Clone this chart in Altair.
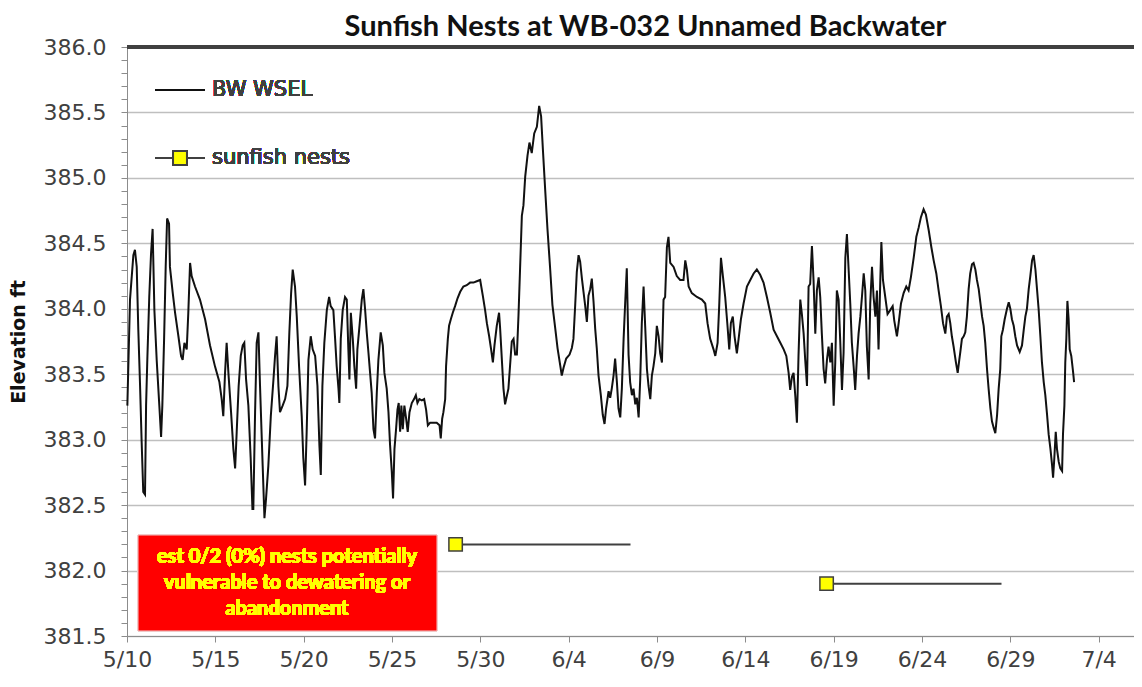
import altair as alt
import pandas as pd

# ---- water surface elevation (days after 5/10, elevation ft) ----
wsel_day = [
    0.02, 0.17, 0.36, 0.45, 0.55, 0.64, 0.74, 0.83, 0.92, 1.02, 1.08, 1.15, 1.26, 1.36, 1.45, 1.55,
    1.68, 1.83, 1.93, 2.00, 2.10, 2.19, 2.27, 2.38, 2.43, 2.59, 2.72, 2.91, 3.06, 3.15, 3.25, 3.38,
    3.47, 3.57, 3.66, 3.85, 4.13, 4.42, 4.70, 4.98, 5.23, 5.36, 5.45, 5.55, 5.64, 5.74, 5.89, 6.02,
    6.12, 6.21, 6.32, 6.44, 6.55, 6.64, 6.74, 6.87, 7.00, 7.10, 7.15, 7.25, 7.34, 7.44, 7.53, 7.68,
    7.78, 7.87, 8.00, 8.14, 8.29, 8.38, 8.47, 8.57, 8.66, 8.81, 8.95, 9.08, 9.19, 9.29, 9.38, 9.51,
    9.61, 9.74, 9.89, 9.98, 10.08, 10.17, 10.27, 10.40, 10.51, 10.65, 10.78, 10.89,
    10.97, 11.06, 11.17, 11.31, 11.44, 11.53, 11.68, 11.78, 11.87, 11.97, 12.02, 12.10, 12.21, 12.34,
    12.44, 12.53, 12.59, 12.67, 12.78, 12.87, 12.97, 13.04, 13.16, 13.29, 13.38, 13.48, 13.57, 13.67,
    13.76, 13.85, 13.95, 14.04, 14.14, 14.23, 14.36, 14.48, 14.57, 14.70, 14.80, 14.89, 14.99, 15.06,
    15.14, 15.23, 15.31, 15.38, 15.46, 15.53, 15.61, 15.70, 15.80, 15.89, 15.99, 16.12, 16.25, 16.35,
    16.44, 16.55, 16.69, 16.82, 16.93, 17.03, 17.16, 17.35, 17.53, 17.69, 17.76, 17.84, 17.91, 18.01,
    18.06, 18.16, 18.23, 18.33, 18.44, 18.57, 18.71, 18.86, 19.04, 19.23, 19.42, 19.61, 19.80, 19.99,
    20.14, 20.27, 20.37, 20.50, 20.61, 20.71, 20.80, 20.93, 21.06,
    21.12, 21.31, 21.40, 21.59, 21.78, 21.88, 21.97, 22.07, 22.16, 22.25, 22.35, 22.44, 22.54, 22.67,
    22.78, 22.91, 23.05, 23.20, 23.33, 23.44, 23.54, 23.67, 23.80, 23.95, 24.08, 24.24, 24.37, 24.52,
    24.61, 24.71, 24.86, 25.05, 25.18, 25.27, 25.37, 25.46, 25.56, 25.65, 25.75, 25.84, 25.93, 26.03,
    26.12, 26.22, 26.31, 26.41, 26.50, 26.59, 26.69, 26.82, 26.93, 27.03, 27.12, 27.26, 27.35, 27.44,
    27.54, 27.63, 27.73, 27.82, 27.92, 28.01, 28.11, 28.20, 28.29, 28.39, 28.48, 28.58, 28.67, 28.77,
    28.86, 28.96,
    29.05, 29.14, 29.24, 29.33, 29.43, 29.52, 29.62, 29.71, 29.80, 29.90, 29.99, 30.09, 30.18, 30.28,
    30.37, 30.46, 30.56, 30.65, 30.75, 30.94, 31.12, 31.31, 31.50, 31.60, 31.69, 31.79, 31.97, 32.26,
    32.54, 32.73, 32.86, 33.01, 33.20, 33.30, 33.43, 33.52, 33.62, 33.73, 33.86, 33.99, 34.09, 34.18,
    34.29, 34.39, 34.52, 34.62, 34.75, 34.90, 35.09, 35.28, 35.47, 35.65, 35.84, 36.03, 36.22, 36.41,
    36.60, 36.79, 36.98, 37.17, 37.32, 37.45,
    37.54, 37.64, 37.73, 37.83, 37.92, 38.01, 38.11, 38.20, 38.30, 38.39, 38.49, 38.58, 38.67, 38.77,
    38.86, 38.96, 39.05, 39.15, 39.24, 39.33, 39.43, 39.52, 39.62, 39.71, 39.81, 39.90, 40.00, 40.09,
    40.18, 40.28, 40.37, 40.47, 40.56, 40.66, 40.75, 40.85, 40.94, 41.03, 41.13, 41.22, 41.32, 41.41,
    41.51, 41.60, 41.70, 41.79, 41.88, 41.98, 42.07, 42.17, 42.26, 42.36, 42.45, 42.54, 42.64, 42.70,
    42.79, 42.92, 43.05, 43.20, 43.34, 43.43, 43.58, 43.68, 43.81, 43.96, 44.11, 44.24, 44.37, 44.53,
    44.68, 44.81, 44.94, 45.09, 45.22, 45.38, 45.53, 45.66, 45.81, 45.94, 46.07, 46.19, 46.32, 46.41,
    46.51, 46.60, 46.69, 46.79, 46.92, 47.02, 47.11,
    47.17, 47.26, 47.36, 47.45, 47.54, 47.64, 47.73, 47.83, 47.92, 48.02, 48.11, 48.21, 48.30, 48.40,
    48.49, 48.58, 48.68, 48.77, 48.87, 48.96, 49.06, 49.15, 49.25, 49.34, 49.43, 49.49, 49.58, 49.68,
    49.81, 49.91, 50.00, 50.09, 50.19, 50.28, 50.38, 50.53, 50.66, 50.76, 50.85, 50.94, 51.04, 51.13,
    51.23, 51.32, 51.42, 51.51, 51.60, 51.70, 51.79, 51.89, 51.98, 52.08, 52.17, 52.27, 52.36, 52.42,
    52.49, 52.57, 52.64, 52.74, 52.83, 52.93, 52.98, 53.06, 53.11, 53.17, 53.23, 53.30, 53.36, 53.45,
    53.55, 53.61,
]
wsel_ft = [
    383.26, 384.07, 384.41, 384.45, 384.32, 383.84, 383.41, 382.98, 382.60, 382.58, 383.26, 383.61, 384.09, 384.42, 384.61, 383.99,
    383.61, 383.26, 383.02, 383.26, 383.77, 384.32, 384.69, 384.65, 384.32, 384.12, 383.97, 383.79, 383.64, 383.61, 383.74, 383.69,
    383.97, 384.35, 384.25, 384.17, 384.07, 383.92, 383.72, 383.56, 383.44, 383.31, 383.18, 383.51, 383.74, 383.51, 383.21, 382.93,
    382.78, 383.06, 383.41, 383.64, 383.72, 383.74, 383.46, 383.26, 382.86, 382.47, 382.47, 383.21, 383.74, 383.82, 383.41, 382.80,
    382.40, 382.55, 382.80, 383.18, 383.46, 383.64, 383.79, 383.41, 383.21, 383.26, 383.31, 383.41, 383.82, 384.12, 384.30, 384.17,
    383.94, 383.56, 383.18, 382.86, 382.65, 383.06, 383.61, 383.79, 383.69, 383.64, 383.41, 382.96,
    382.73, 383.41, 383.74, 383.99, 384.09, 384.02, 383.99, 383.77, 383.56, 383.39, 383.28, 383.77, 383.99, 384.09,
    384.07, 383.69, 383.46, 383.97, 383.77, 383.56, 383.39, 383.69, 383.87, 384.07, 384.15, 383.99, 383.82, 383.66,
    383.51, 383.36, 383.08, 383.01, 383.36, 383.61, 383.82, 383.72, 383.51, 383.39, 383.21, 382.96, 382.75, 382.55,
    382.93, 383.08, 383.23, 383.28, 383.06, 383.26, 383.08, 383.26, 383.16, 383.06, 383.21, 383.28, 383.31, 383.34,
    383.28, 383.31, 383.30, 383.31, 383.23, 383.11, 383.13, 383.13, 383.13, 383.11, 383.01, 383.16, 383.21, 383.31,
    383.56, 383.77, 383.87, 383.92, 383.97, 384.02, 384.08, 384.13, 384.17, 384.18, 384.20, 384.20, 384.21, 384.22,
    384.10, 383.99, 383.89, 383.79, 383.69, 383.59, 383.72, 383.87, 383.97,
    383.85, 383.39, 383.27, 383.39, 383.75, 383.77, 383.65, 383.65, 383.95, 384.31, 384.71, 384.79, 385.01, 385.17,
    385.27, 385.19, 385.34, 385.39, 385.55, 385.47, 385.22, 384.91, 384.61, 384.31, 384.03, 383.85, 383.70, 383.57,
    383.49, 383.55, 383.62, 383.65, 383.70, 383.77, 384.03, 384.28, 384.41, 384.36, 384.23, 384.13, 384.03, 383.90,
    384.10, 384.15, 384.23, 384.05, 383.85, 383.70, 383.49, 383.34, 383.19, 383.12, 383.24, 383.37, 383.32, 383.39,
    383.49, 383.62, 383.44, 383.24, 383.17, 383.39, 383.77, 384.05, 384.31, 383.65, 383.44, 383.34, 383.39, 383.27,
    383.32, 383.17,
    383.46, 383.89, 384.17, 383.87, 383.54, 383.41, 383.31, 383.49, 383.56, 383.66, 383.87, 383.79, 383.66, 383.59,
    384.07, 384.09, 384.47, 384.55, 384.35, 384.32, 384.25, 384.22, 384.22, 384.37, 384.30, 384.17, 384.12, 384.09,
    384.07, 384.04, 383.89, 383.77, 383.69, 383.64, 383.74, 384.02, 384.39, 384.25, 384.09, 383.87, 383.69, 383.89,
    383.94, 383.79, 383.66, 383.77, 383.92, 384.04, 384.17, 384.22, 384.27, 384.30, 384.26, 384.20, 384.09, 383.97,
    383.84, 383.79, 383.74, 383.69, 383.64, 383.51,
    383.38, 383.48, 383.51, 383.33, 383.13, 383.64, 384.07, 383.96, 383.81, 383.61, 383.41, 384.17, 384.19, 384.48,
    384.22, 383.81, 384.14, 384.24, 384.09, 383.81, 383.54, 383.43, 383.61, 383.71, 383.59, 383.74, 383.26, 383.59,
    384.14, 384.07, 383.76, 383.38, 383.66, 384.39, 384.57, 384.29, 384.04, 383.74, 383.56, 383.38, 383.64, 383.81,
    383.94, 384.09, 384.27, 384.14, 383.71, 383.46, 384.04, 384.32, 384.09, 383.94, 384.14, 383.69, 384.22, 384.51,
    384.22, 384.09, 383.96, 383.99, 384.02, 383.91, 383.79, 383.89, 384.04, 384.12, 384.17, 384.14, 384.24, 384.39,
    384.55, 384.62, 384.70, 384.76, 384.72, 384.60, 384.47, 384.37, 384.27, 384.14, 384.02, 383.89, 383.81, 383.94,
    383.96, 383.89, 383.79, 383.71, 383.59, 383.51, 383.61,
    383.67, 383.77, 383.79, 383.82, 383.94, 384.15, 384.27, 384.34, 384.35, 384.30, 384.22, 384.15, 384.05, 383.94,
    383.87, 383.74, 383.54, 383.39, 383.24, 383.14, 383.09, 383.05, 383.19, 383.39, 383.54, 383.79, 383.84, 383.92,
    384.00, 384.05, 384.00, 383.92, 383.87, 383.79, 383.72, 383.67, 383.72, 383.84, 383.94, 384.00, 384.15, 384.25,
    384.37, 384.41, 384.30, 384.15, 384.00, 383.79, 383.59, 383.44, 383.34, 383.19, 383.04, 382.93, 382.81, 382.71,
    382.86, 383.06, 382.93, 382.83, 382.78, 382.76, 383.04, 383.26, 383.59, 383.77, 384.06, 383.92, 383.69, 383.64,
    383.52, 383.44,
]

# ---- sunfish nests (start day, end day, elevation ft) ----
nest_start = [18.6, 39.6]
nest_end = [28.5, 49.5]
nest_elev = [382.2, 381.9]

# ---- axis labels ----
x_tick_days = [0, 5, 10, 15, 20, 25, 30, 35, 40, 45, 50, 55]
x_tick_labels = ["5/10", "5/15", "5/20", "5/25", "5/30", "6/4", "6/9", "6/14",
                 "6/19", "6/24", "6/29", "7/4"]
y_ticks = [round(381.5 + 0.1 * i, 1) for i in range(46)]

note_lines = ["est 0/2 (0%) nests potentially", "vulnerable to dewatering or", "abandonment"]

W, H = 1007, 589
TICKFONT = "DejaVu Sans"
GRAY = "#404040"
AXGRAY = "#8c8c8c"

wsel = pd.DataFrame({"day": wsel_day, "ft": wsel_ft})
nests = pd.DataFrame({"start": nest_start, "end": nest_end, "ft": nest_elev})

major = "abs(datum.value*2 - round(datum.value*2)) < 0.01"
label_js = "[" + ",".join("'%s'" % s for s in x_tick_labels) + "]"

x_scale = alt.Scale(domain=[0, 57.0], nice=False, zero=False)
y_scale = alt.Scale(domain=[381.5, 386.0], nice=False, zero=False)

x_axis = alt.Axis(
    values=x_tick_days, tickCount=100, labelExpr=label_js + "[round(datum.value/5)]",
    grid=False, domainColor=AXGRAY, tickColor=AXGRAY, tickSize=6,
    labelFont=TICKFONT, labelFontSize=22, labelColor=GRAY, labelPadding=7,
    labelOverlap=False, labelFlush=False, title=None,
)
y_axis = alt.Axis(
    values=y_ticks, tickCount=100,
    labelExpr=major + " ? format(datum.value, '.1f') : ''",
    labelOverlap=False, labelFont=TICKFONT, labelFontSize=22, labelColor=GRAY,
    labelPadding=15, tickSize=6, tickColor=AXGRAY, domainColor=AXGRAY,
    grid=True, gridColor="#bfbfbf", gridWidth=1.6,
    gridOpacity={"condition": {"test": major, "value": 1}, "value": 0},
    title="Elevation ft", titleFont="DejaVu Sans", titleFontSize=19, titleFontWeight="bold",
    titleColor="#111111", titleX=-109, titleY=H / 2, titleAngle=270,
    titleAlign="center", titleBaseline="middle",
)

line = alt.Chart(wsel).mark_line(color="#111111", strokeWidth=2).encode(
    x=alt.X("day:Q", scale=x_scale, axis=x_axis),
    y=alt.Y("ft:Q", scale=y_scale, axis=y_axis),
    order="day:Q",
)

nest_lines = alt.Chart(nests).mark_rule(color=GRAY, strokeWidth=2).encode(
    x=alt.X("start:Q", scale=x_scale), x2="end:Q",
    y=alt.Y("ft:Q", scale=y_scale),
)
nest_pts = alt.Chart(nests).mark_point(
    shape="square", filled=True, fill="#ffff00", stroke=GRAY, strokeWidth=1.5,
    size=180, opacity=1,
).encode(
    x=alt.X("start:Q", scale=x_scale),
    y=alt.Y("ft:Q", scale=y_scale),
)

top_border = alt.Chart(wsel).mark_rule(color="#404040", strokeWidth=2.5).encode(
    x=alt.value(0), x2=alt.value(W), y=alt.value(0)
)

# legend (drawn inside the plot, top-left)
leg_line1 = alt.Chart(wsel).mark_rule(color="#111111", strokeWidth=2).encode(
    x=alt.value(28), x2=alt.value(78), y=alt.value(43)
)
leg_line2 = alt.Chart(wsel).mark_rule(color=GRAY, strokeWidth=2).encode(
    x=alt.value(28), x2=alt.value(78), y=alt.value(111)
)
leg_sq = alt.Chart(wsel).mark_point(
    shape="square", filled=True, fill="#ffff00", stroke=GRAY, strokeWidth=1.5,
    size=180, opacity=1,
).encode(x=alt.value(53), y=alt.value(111))
leg_txt1 = alt.Chart(wsel).mark_text(
    text="BW WSEL", align="left", baseline="middle", font="DejaVu Sans", fontSize=21,
    color=GRAY,
).encode(x=alt.value(85), y=alt.value(43))
leg_txt2 = alt.Chart(wsel).mark_text(
    text="sunfish nests", align="left", baseline="middle", font="DejaVu Sans", fontSize=21,
    color=GRAY,
).encode(x=alt.value(85), y=alt.value(111))

# red note box
box = alt.Chart(wsel).mark_rect(color="#ff0000", stroke="#f0c8c8", strokeWidth=1).encode(
    x=alt.value(11), x2=alt.value(310), y=alt.value(488), y2=alt.value(584)
)
note_layers = []
for txt, ypos in zip(note_lines, [510, 536, 562]):
    note_layers.append(
        alt.Chart(wsel).mark_text(
            text=txt, align="center", baseline="middle", font="Lato", fontSize=20,
            fontWeight="bold", color="#ffff00",
        ).encode(x=alt.value(160), y=alt.value(ypos))
    )

chart = alt.layer(
    line, nest_lines, nest_pts, top_border,
    leg_line1, leg_line2, leg_sq, leg_txt1, leg_txt2, box, *note_layers,
).properties(
    width=W, height=H,
    autosize=alt.AutoSizeParams(type="none"),
    padding={"left": 119, "top": 39, "right": 0, "bottom": 43},
    title=alt.Title(
        "Sunfish Nests at WB-032 Unnamed Backwater", font="Lato", fontSize=29,
        fontWeight="bold", color="#111111", anchor="middle", offset=7, dx=15, dy=13,
        frame="group",
    ),
).configure_view(fill="#f2f2f2", stroke=None).configure(background="white")

chart.save("out.html", embed_options={"renderer": "svg", "actions": False})
